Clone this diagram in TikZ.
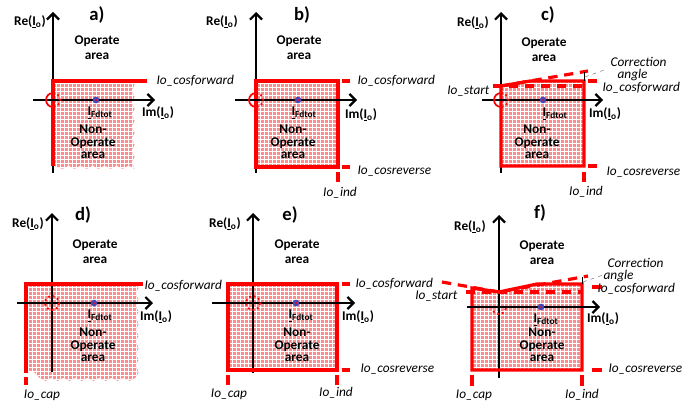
\documentclass[tikz,border=0pt]{standalone}
\usepackage{fontspec}
\setmainfont{Carlito}
\usetikzlibrary{arrows.meta,patterns,decorations.pathmorphing}
\usetikzlibrary{shapes,positioning}
\tikzset{>=stealth}
\tikzset{
  axis/.style={line width=1.6pt,-{Straight Barb[length=4.5pt,width=9pt]}},
  limit/.style={red,line width=2.4pt},
  limitdash/.style={red,line width=2.4pt,dash pattern=on 7pt off 5pt},
  nonop/.style={fill=red!45,postaction={pattern=grid,pattern color=white}},
  torn/.style={decoration={snake,amplitude=1.2pt,segment length=9pt}},
  lbl/.style={font=\fontsize{10}{11}\selectfont\bfseries,align=center,inner sep=1pt},
  nlbl/.style={font=\fontsize{10}{9.5}\selectfont\bfseries,align=center,inner sep=1pt},
  setting/.style={font=\fontsize{10}{11}\selectfont\itshape,inner sep=1pt},
  panel/.style={font=\fontsize{14}{14}\selectfont\bfseries,inner sep=1pt},
  phasor/.style={circle,fill=blue!45!gray,inner sep=0pt,minimum size=5pt},
  origsolid/.style={red,line width=1.3pt},
  origdot/.style={red,line width=1.4pt,dash pattern=on 1.4pt off 2.2pt},
  leader/.style={gray,thin,dashed},
}
\newcommand{\Ph}[1]{\underline{I}\textsubscript{#1}}
\begin{document}
\begin{tikzpicture}[x=0.75pt,y=-0.75pt]
  \useasboundingbox (0,0) rectangle (689,403);
  \coordinate (Oa) at (53,100);
  \coordinate (Ob) at (256,100);
  \coordinate (Oc) at (501,100);
  \coordinate (Od) at (52,303);
  \coordinate (Oe) at (253,303);
  \coordinate (Of) at (499,307);

  % a)
  \fill[nonop] (53,81) -- (133,81) decorate[torn]{-- (133,166) -- (53,166)} -- cycle;
  \draw[axis] (53,173) -- (53,12);
  \draw[limit] (53,166) -- (53,81) -- (147,81);
  \draw[axis] (33,100) -- (155,100);
  \draw[origsolid] (Oa) ++(90:7) arc[start angle=90,end angle=270,radius=7];
  \draw[origdot] (Oa) ++(-90:7) arc[start angle=-90,end angle=90,radius=7];
  \node[phasor] (pha) at (96,100) {};
  \fill[red] (pha) circle (1);
  \node[panel] (ta) at (97,15) {a)};
  \node[lbl] (rea) at (30,22) {Re(\Ph{o})};
  \node[lbl] (opa) at (97,48) {Operate\\area};
  \node[setting,anchor=west] (cfa) at (155,81) {Io\_cosforward};
  \node[lbl,anchor=west] (ifa) at (86,113) {\Ph{Fdtot}};
  \node[nlbl] (noa) at (93,142) {Non-\\Operate\\area};
  \node[lbl] (ima) at (158,113) {Im(\Ph{o})};

  % b)
  \fill[nonop] (256,81) rectangle (338,167);
  \draw[axis] (256,173) -- (256,12);
  \draw[limit] (256,81) rectangle (338,167);
  \draw[limit] (342,81) -- (350,81) (342,167) -- (350,167) (338,172) -- (338,182);
  \draw[axis] (235,100) -- (357,100);
  \draw[origsolid] (Ob) ++(90:7) arc[start angle=90,end angle=270,radius=7];
  \draw[origdot] (Ob) ++(-90:7) arc[start angle=-90,end angle=90,radius=7];
  \node[phasor] (phb) at (298,100) {};
  \fill[red] (phb) circle (1);
  \node[panel] (tb) at (302,15) {b)};
  \node[lbl] (reb) at (222,22) {Re(\Ph{o})};
  \node[lbl] (opb) at (299,48) {Operate\\area};
  \node[setting,anchor=west] (cfb) at (356,81) {Io\_cosforward};
  \node[setting,anchor=west] (crb) at (356,171) {Io\_cosreverse};
  \node[setting] (inb) at (340,193) {Io\_ind};
  \node[lbl,anchor=west] (ifb) at (290,113) {\Ph{Fdtot}};
  \node[nlbl] (nob) at (293,142) {Non-\\Operate\\area};
  \node[lbl] (imb) at (361,115) {Im(\Ph{o})};

  % c)
  \fill[nonop] (501,86) -- (530,81) -- (584,81) -- (584,166) -- (501,166) -- cycle;
  \draw[axis] (501,173) -- (501,12);
  \draw[limit] (501,166) -- (501,86) -- (530,81) -- (584,81) -- (584,166) -- cycle;
  \draw[limitdash] (493,86) -- (583,86);
  \draw[limitdash] (501,86) -- (588,71);
  \draw[limit] (588,81) -- (597,81) (588,166) -- (597,166) (584,172) -- (584,182);
  \draw[thin] (584,81) -- (584,72);
  \draw[leader] (585,77) -- (604,70);
  \draw[axis] (482,100) -- (603,100);
  \draw[origsolid] (Oc) ++(90:7) arc[start angle=90,end angle=270,radius=7];
  \draw[origdot] (Oc) ++(-90:7) arc[start angle=-90,end angle=90,radius=7];
  \node[phasor] (phc) at (543,100) {};
  \fill[red] (phc) circle (1);
  \node[panel] (tc) at (548,15) {c)};
  \node[lbl] (rec) at (473,23) {Re(\Ph{o})};
  \node[lbl] (opc) at (544,50) {Operate\\area};
  \node[setting,anchor=west] (cac) at (609,62) {Correction};
  \node[setting,anchor=west] (cbc) at (616,75) {angle};
  \node[setting,anchor=east] (stc) at (491,91) {Io\_start};
  \node[setting,anchor=west] (cfc) at (601,88) {Io\_cosforward};
  \node[setting,anchor=west] (crc) at (605,172) {Io\_cosreverse};
  \node[setting] (inc) at (586,192) {Io\_ind};
  \node[lbl,anchor=west] (ifc) at (541,114) {\Ph{Fdtot}};
  \node[nlbl] (noc) at (537,142) {Non-\\Operate\\area};
  \node[lbl] (imc) at (605,114) {Im(\Ph{o})};

  % d)
  \fill[nonop] (26,284) -- (137,284) decorate[torn]{-- (137,372) -- (26,372)} -- cycle;
  \draw[axis] (52,372) -- (52,213);
  \draw[limit] (26,373) -- (26,284) -- (143,284);
  \draw[limit] (26,377) -- (26,385);
  \draw[axis] (17,303) -- (153,303);
  \draw[origdot] (Od) circle (7);
  \node[phasor] (phd) at (94,303) {};
  \fill[red] (phd) circle (1);
  \node[panel] (td) at (83,215) {d)};
  \node[lbl] (red) at (28,224) {Re(\Ph{o})};
  \node[lbl] (opd) at (95,252) {Operate\\area};
  \node[setting,anchor=west] (cfd) at (143,286) {Io\_cosforward};
  \node[setting] (cpd) at (42,395) {Io\_cap};
  \node[lbl,anchor=west] (ifd) at (86,316) {\Ph{Fdtot}};
  \node[nlbl] (nod) at (93,345) {Non-\\Operate\\area};
  \node[lbl] (imd) at (156,317) {Im(\Ph{o})};

  % e)
  \fill[nonop] (228,284) rectangle (337,370);
  \draw[axis] (253,373) -- (253,213);
  \draw[limit] (228,284) rectangle (337,370);
  \draw[limit] (342,284) -- (350,284) (342,370) -- (350,370)
    (228,375) -- (228,385) (337,375) -- (337,385);
  \draw[axis] (212,303) -- (355,303);
  \draw[origdot] (Oe) circle (7);
  \node[phasor] (phe) at (296,303) {};
  \fill[red] (phe) circle (1);
  \node[panel] (te) at (290,215) {e)};
  \node[lbl] (ree) at (225,224) {Re(\Ph{o})};
  \node[lbl] (ope) at (297,252) {Operate\\area};
  \node[setting,anchor=west] (cfe) at (354,284) {Io\_cosforward};
  \node[setting,anchor=west] (cre) at (359,369) {Io\_cosreverse};
  \node[setting] (cpe) at (229,394) {Io\_cap};
  \node[setting] (ine) at (336,393) {Io\_ind};
  \node[lbl,anchor=west] (ife) at (287,316) {\Ph{Fdtot}};
  \node[nlbl] (noe) at (297,345) {Non-\\Operate\\area};
  \node[lbl] (ime) at (358,317) {Im(\Ph{o})};

  % f)
  \fill[nonop] (472,288) -- (499,292) -- (537,284) -- (582,284) -- (582,370) -- (472,370) -- cycle;
  \draw[axis] (499,378) -- (499,215);
  \draw[limit] (472,370) -- (472,288) -- (499,292) -- (537,284) -- (582,284) -- (582,370) -- cycle;
  \draw[limitdash] (466,292) -- (583,292);
  \draw[limitdash] (442,282) -- (499,292) -- (588,276);
  \draw[limit] (592,287) -- (602,287) (592,370) -- (602,370)
    (472,375) -- (472,386) (582,375) -- (582,386);
  \draw[thin] (582,284) -- (582,277);
  \draw[leader] (583,282) -- (603,275);
  \draw[axis] (467,307) -- (600,307);
  \draw[origdot] (Of) ++(10:7) arc[start angle=10,end angle=170,radius=7];
  \node[phasor] (phf) at (541,307) {};
  \fill[red] (phf) circle (1);
  \node[panel] (tf) at (540,213) {f)};
  \node[lbl] (ref) at (470,227) {Re(\Ph{o})};
  \node[lbl] (opf) at (542,253) {Operate\\area};
  \node[setting,anchor=west] (caf) at (606,263) {Correction};
  \node[setting,anchor=west] (cbf) at (602,276) {angle};
  \node[setting,anchor=east] (stf) at (459,296) {Io\_start};
  \node[setting,anchor=west] (cff) at (596,289) {Io\_cosforward};
  \node[setting,anchor=west] (crf) at (607,369) {Io\_cosreverse};
  \node[setting] (cpf) at (474,395) {Io\_cap};
  \node[setting] (inf) at (582,395) {Io\_ind};
  \node[lbl,anchor=west] (iff) at (532,320) {\Ph{Fdtot}};
  \node[nlbl] (nof) at (542,345) {Non-\\Operate\\area};
  \node[lbl] (imf) at (603,319) {Im(\Ph{o})};
\end{tikzpicture}
\end{document}
